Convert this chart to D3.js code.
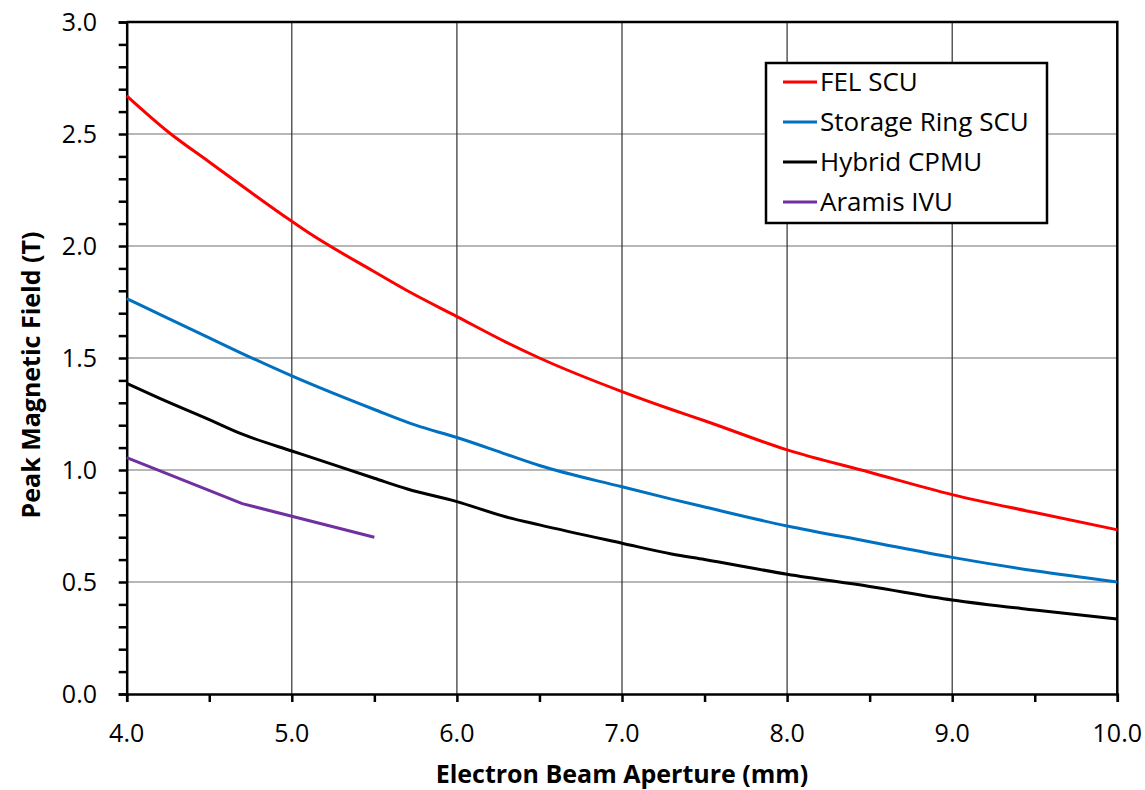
<!DOCTYPE html>
<html>
<head>
<meta charset="utf-8">
<script src="https://cdn.jsdelivr.net/npm/d3@7"></script>
<style>
  body { margin: 0; background: #fff; }
  svg text { font-family: "Open Sans", Lato, sans-serif; fill: #000; }
</style>
</head>
<body>
<script>
// series data
var felX = [4.0, 4.25, 4.5, 5.0, 5.1, 5.5, 5.7, 6.0, 6.3, 6.5, 7.0, 7.3, 7.5, 8.0, 8.5, 9.0, 9.5, 10.0];
var felY = [2.67, 2.51, 2.375, 2.11, 2.06, 1.885, 1.80, 1.685, 1.57, 1.50, 1.35, 1.27, 1.22, 1.09, 0.99, 0.89, 0.81, 0.733];

var srX = [4.0, 4.2, 4.5, 4.7, 5.0, 5.5, 5.75, 6.0, 6.3, 6.5, 7.0, 7.3, 7.5, 8.0, 8.5, 9.0, 9.5, 10.0];
var srY = [1.765, 1.695, 1.59, 1.52, 1.42, 1.27, 1.20, 1.145, 1.07, 1.02, 0.925, 0.87, 0.835, 0.75, 0.68, 0.61, 0.55, 0.50];

var cpmuX = [4.0, 4.2, 4.5, 4.7, 5.0, 5.1, 5.5, 5.7, 6.0, 6.3, 6.5, 7.0, 7.3, 7.5, 8.0, 8.5, 9.0, 9.5, 10.0];
var cpmuY = [1.387, 1.32, 1.225, 1.16, 1.085, 1.061, 0.963, 0.915, 0.859, 0.79, 0.755, 0.673, 0.625, 0.60, 0.535, 0.48, 0.42, 0.375, 0.335];

var ivuX = [4.0, 4.7, 5.5];
var ivuY = [1.055, 0.85, 0.70];

var seriesNames = ['FEL SCU', 'Storage Ring SCU', 'Hybrid CPMU', 'Aramis IVU'];
var seriesColors = ['#ff0000', '#0070c0', '#000000', '#7030a0'];

var xTicks = [4, 5, 6, 7, 8, 9, 10];
var yTicks = [0, 0.5, 1.0, 1.5, 2.0, 2.5, 3.0];

var W = 1145, H = 790;
var m = {left: 126.7, right: 1117.3, top: 22, bottom: 694};

var svg = d3.select('body').append('svg')
  .attr('width', W).attr('height', H);

var x = d3.scaleLinear().domain([4, 10]).range([m.left, m.right]);
var y = d3.scaleLinear().domain([0, 3]).range([m.bottom, m.top]);

// gridlines
svg.append('g').selectAll('line').data(yTicks.slice(1, -1)).enter().append('line')
  .attr('x1', m.left).attr('x2', m.right)
  .attr('y1', function(d){ return y(d); }).attr('y2', function(d){ return y(d); })
  .attr('stroke', '#707070').attr('stroke-width', 1.2);
svg.append('g').selectAll('line').data(xTicks.slice(1, -1)).enter().append('line')
  .attr('y1', m.top).attr('y2', m.bottom)
  .attr('x1', function(d){ return x(d); }).attr('x2', function(d){ return x(d); })
  .attr('stroke', '#303030').attr('stroke-width', 1.2);

// plot border (top/right)
svg.append('path')
  .attr('d', 'M' + m.left + ',' + m.top + 'H' + m.right + 'V' + m.bottom)
  .attr('fill', 'none').attr('stroke', '#000').attr('stroke-width', 2.5);

// axes
var xAxis = d3.axisBottom(x).tickValues(d3.range(4, 10.01, 0.5)).tickSize(8).tickFormat('');
var gx = svg.append('g').attr('transform', 'translate(0,' + m.bottom + ')').call(xAxis);
var yAxis = d3.axisLeft(y).tickValues(d3.range(0, 3.001, 0.1)).tickSize(8).tickFormat('');
var gy = svg.append('g').attr('transform', 'translate(' + m.left + ',0)').call(yAxis);
[gx, gy].forEach(function(g){
  g.select('.domain').attr('stroke', '#000').attr('stroke-width', 2.5);
  g.selectAll('.tick line').attr('stroke', '#000').attr('stroke-width', 2.5);
});

// tick labels
svg.append('g').selectAll('text').data(xTicks).enter().append('text')
  .attr('x', function(d){ return x(d); }).attr('y', 742)
  .attr('text-anchor', 'middle').style('font-size', '25px')
  .text(function(d){ return d3.format('.1f')(d); });
svg.append('g').selectAll('text').data(yTicks).enter().append('text')
  .attr('x', 97).attr('y', function(d){ return y(d); })
  .attr('dy', '0.36em')
  .attr('text-anchor', 'end').style('font-size', '25px')
  .text(function(d){ return d3.format('.1f')(d); });

// axis titles
svg.append('text')
  .attr('x', 622).attr('y', 783)
  .attr('text-anchor', 'middle').style('font-size', '25px').style('font-weight', 'bold')
  .text('Electron Beam Aperture (mm)');
svg.append('text')
  .attr('transform', 'translate(40,375) rotate(-90)')
  .attr('text-anchor', 'middle').style('font-size', '25px').style('font-weight', 'bold')
  .text('Peak Magnetic Field (T)');

// lines
var allX = [felX, srX, cpmuX, ivuX];
var allY = [felY, srY, cpmuY, ivuY];
var smooth = d3.line().curve(d3.curveMonotoneX)
  .x(function(d){ return x(d[0]); }).y(function(d){ return y(d[1]); });
var straight = d3.line()
  .x(function(d){ return x(d[0]); }).y(function(d){ return y(d[1]); });

allX.forEach(function(xs, i){
  var pts = xs.map(function(v, j){ return [v, allY[i][j]]; });
  svg.append('path').datum(pts)
    .attr('d', i === 3 ? straight : smooth)
    .attr('fill', 'none')
    .attr('stroke', seriesColors[i])
    .attr('stroke-width', 3)
    .attr('stroke-linejoin', 'round');
});

// legend
var lg = svg.append('g');
lg.append('rect').attr('x', 766).attr('y', 63).attr('width', 281).attr('height', 160)
  .attr('fill', '#fff').attr('stroke', '#000').attr('stroke-width', 2.5);
seriesNames.forEach(function(name, i){
  var cy = 82 + i * 40;
  lg.append('line').attr('x1', 783).attr('x2', 817).attr('y1', cy).attr('y2', cy)
    .attr('stroke', seriesColors[i]).attr('stroke-width', 3);
  lg.append('text').attr('x', 820).attr('y', cy).attr('dy', '0.36em')
    .style('font-size', '26px').text(name);
});
</script>
</body>
</html>
